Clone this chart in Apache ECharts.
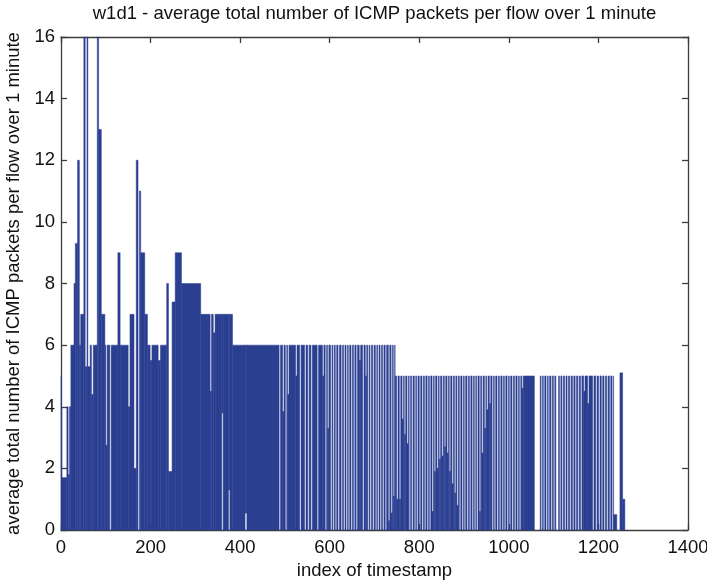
<!DOCTYPE html>
<html>
<head>
<meta charset="utf-8">
<script src="https://cdn.jsdelivr.net/npm/echarts@6/dist/echarts.min.js"></script>
<style>
  html, body { margin: 0; padding: 0; background: #ffffff; }
  #chart { width: 707px; height: 582px; }
</style>
</head>
<body>
<div id="chart"></div>
<script>
// ICMP packets per flow, averaged over 1-minute windows (w1d1 trace).
// The trace is described as an envelope of sample levels plus the short
// dropouts inside it.

const titleText = 'w1d1 - average total number of ICMP packets per flow over 1 minute';
const xTitle = 'index of timestamp';
const yTitle = 'average total number of ICMP packets per flow over 1 minute';

const xTicks = { min: 0, max: 1400, step: 200 };
const yTicks = { min: 0, max: 16, step: 2 };

// Envelope: [first index, last index, level]
const levels = [
  [0, 1, 5], [1, 22, 4], [22, 29, 6], [29, 32, 8], [32, 37, 9.3],
  [37, 41, 12], [41, 44, 6], [44, 51, 7], [51, 60, 16], [60, 81, 6],
  [81, 84, 16], [84, 90, 13], [90, 98, 7], [98, 127, 6], [127, 132, 9],
  [132, 154, 6], [154, 168, 7], [168, 175, 12], [175, 178, 11], [178, 187, 9],
  [187, 193, 7], [193, 236, 6], [236, 248, 8], [248, 255, 7.4], [255, 269, 9],
  [269, 312, 8], [312, 383, 7], [383, 746, 6], [746, 1234, 5],
  [1234, 1241, 0.5], [1248, 1254, 5.1], [1254, 1259, 1]
];

// Dropouts inside the envelope: [first index, last index, floor reached]
const dipsEarly = [
  [2, 13, 1.7], [16, 19, 1.8], [54, 58, 5.3], [60, 65, 5.3], [68, 72, 4.4],
  [100, 103, 2.75], [109, 112, 0], [150, 154, 4], [163, 168, 2], [172, 175, 0],
  [199, 203, 5.5], [217, 222, 5.5], [240, 248, 1.9], [333, 336, 4.5], [340, 344, 6.4]
];

const dipsLevelSix = [
  [487, 490, 0], [495, 498, 3.84], [501, 504, 0], [506, 509, 4.4], [524, 527, 5],
  [533, 536, 0], [544, 547, 0], [551, 554, 0], [558, 561, 0], [572, 575, 0],
  [584, 587, 5], [590, 593, 0], [595, 598, 3.3], [602, 605, 0], [607, 610, 0],
  [612.5, 615.5, 0], [618.5, 621.5, 0], [625.5, 628.5, 0], [631, 634, 0], [636.5, 639.5, 0],
  [641.5, 644.5, 0], [647.5, 650.5, 0], [653, 656, 0], [659, 662, 0], [666, 669, 5.5],
  [673.5, 676.5, 0], [679.5, 682.5, 5], [685, 688, 0], [690, 693, 0], [696, 699, 0],
  [702, 705, 0], [707, 710, 0], [712.5, 715.5, 0], [718, 721, 0], [724, 727, 0],
  [731, 734, 0.3], [737, 740, 0.55], [742, 745, 1.1]
];

const dipsLevelFive = [
  [749.5, 752.5, 1], [755.5, 758.5, 1], [761.5, 764.5, 3.6], [766.5, 769.5, 3.1], [772.5, 775.5, 2.8],
  [777.5, 780.5, 0], [783, 786, 0], [789, 792, 0], [794, 797, 0], [800, 803, 0],
  [806, 809, 0], [811.5, 814.5, 0], [817.5, 820.5, 0], [822.5, 825.5, 0], [828.5, 831.5, 0.6],
  [833.5, 836.5, 1.9], [839.5, 842.5, 2], [844.5, 847.5, 2.3], [850.5, 853.5, 2.4], [856, 859, 2.7],
  [862, 865, 2.5], [867, 870, 1.9], [873, 876, 1.5], [878.5, 881.5, 1.2], [884, 887, 0.8],
  [889.5, 892.5, 0], [895.5, 898.5, 0], [900.5, 903.5, 0], [906.5, 909.5, 0], [912, 915, 0],
  [918, 921, 0], [923, 926, 0], [928, 931, 0], [934, 937, 0.6], [939.5, 942.5, 2.5],
  [945.5, 948.5, 3.3], [950.5, 953.5, 3.9], [956.5, 959.5, 4.1], [962.5, 965.5, 0], [967.5, 970.5, 0],
  [973.5, 976.5, 0], [979, 982, 0], [985, 988, 0], [990, 993, 0], [996, 999, 0],
  [1001, 1004, 0], [1007, 1010, 0], [1012.5, 1015.5, 0], [1018.5, 1021.5, 0], [1023.5, 1026.5, 0],
  [1029, 1032, 4.6], [1057, 1070, 0], [1072, 1075, 0], [1077, 1080, 0], [1083, 1086, 0],
  [1088, 1091, 0], [1094, 1097, 0], [1099.5, 1102.5, 0], [1105, 1111, 0], [1113, 1116, 0],
  [1118.5, 1121.5, 0], [1124.5, 1127.5, 0], [1130, 1133, 0], [1136, 1139, 0], [1142, 1145, 0],
  [1148, 1151, 0], [1154, 1157, 0], [1160, 1163, 0], [1167, 1170, 4.5], [1176, 1179, 4.1],
  [1187, 1190, 0], [1194, 1197, 0], [1200.5, 1203.5, 0], [1206.5, 1209.5, 0], [1212.5, 1215.5, 0],
  [1218.5, 1221.5, 0], [1224.5, 1227.5, 0], [1230.5, 1233.5, 0]
];

// Stretches where the samples never fell below a base value: [first, last, base]
const hollows = [
  [359, 362, 3.8], [374, 377, 1.3], [411, 415, 0.55]
];

const BLUE = '#2b3f91';
const INK = '#111111';
const AXIS = '#3c3c3c';
const FONT = '"Liberation Sans", Arial, Helvetica, sans-serif';
const FONT_SIZE = 18.5;

// Split every envelope segment into filled blocks [x0, x1, low, high].
function buildBlocks() {
  const dips = dipsEarly.concat(dipsLevelSix, dipsLevelFive);
  const blocks = [];
  levels.forEach(([s, e, top]) => {
    const cuts = [];
    dips.forEach(([a, b, floor]) => {
      if (a >= s && a < e) cuts.push({ a, b: Math.min(b, e), lo: 0, hi: Math.min(floor, top) });
    });
    hollows.forEach(([a, b, base]) => {
      if (a >= s && a < e) cuts.push({ a, b: Math.min(b, e), lo: base, hi: top });
    });
    cuts.sort((p, q) => p.a - q.a);
    let cur = s;
    cuts.forEach(c => {
      if (c.a > cur) blocks.push([cur, c.a, 0, top]);
      if (c.hi > c.lo) blocks.push([Math.max(c.a, cur), c.b, c.lo, c.hi]);
      cur = Math.max(cur, c.b);
    });
    if (e > cur) blocks.push([cur, e, 0, top]);
  });
  return blocks;
}

const textStyle = { color: INK, fontSize: FONT_SIZE, fontFamily: FONT };

function axisBase(extra) {
  return Object.assign({
    type: 'value',
    axisLine: { show: true, onZero: false, lineStyle: { color: AXIS, width: 1.3 } },
    axisTick: { show: true, inside: true, length: 6, lineStyle: { color: AXIS, width: 1.3 } },
    splitLine: { show: false }
  }, extra);
}

const chart = echarts.init(document.getElementById('chart'), null, { renderer: 'canvas' });

chart.setOption({
  animation: false,
  backgroundColor: '#ffffff',
  grid: { left: 61, right: 19, top: 37, bottom: 52, containLabel: false, outerBoundsMode: 'none' },
  xAxis: [
    axisBase({
      position: 'bottom',
      min: xTicks.min, max: xTicks.max, interval: xTicks.step,
      axisLabel: Object.assign({ margin: 8, formatter: v => String(v) }, textStyle),
      name: xTitle, nameLocation: 'middle', nameGap: 28,
      nameTextStyle: textStyle
    }),
    axisBase({
      position: 'top',
      min: xTicks.min, max: xTicks.max, interval: xTicks.step,
      axisLabel: { show: false },
      name: titleText, nameLocation: 'middle', nameGap: 14,
      nameTextStyle: textStyle
    })
  ],
  yAxis: [
    axisBase({
      position: 'left',
      min: yTicks.min, max: yTicks.max, interval: yTicks.step,
      axisLabel: Object.assign({ margin: 6, formatter: v => String(v) }, textStyle),
      name: yTitle, nameLocation: 'middle', nameGap: 33,
      nameTextStyle: textStyle
    }),
    axisBase({
      position: 'right',
      min: yTicks.min, max: yTicks.max, interval: yTicks.step,
      axisLabel: { show: false }
    })
  ],
  series: [{
    type: 'custom',
    coordinateSystem: 'cartesian2d',
    xAxisIndex: 0,
    yAxisIndex: 0,
    silent: true,
    encode: { x: [0, 1], y: [2, 3] },
    data: buildBlocks(),
    renderItem: function (params, api) {
      const topLeft = api.coord([api.value(0), api.value(3)]);
      const bottomRight = api.coord([api.value(1), api.value(2)]);
      return {
        type: 'rect',
        shape: {
          x: topLeft[0],
          y: topLeft[1],
          width: bottomRight[0] - topLeft[0],
          height: bottomRight[1] - topLeft[1]
        },
        style: { fill: BLUE, stroke: BLUE, lineWidth: 0.5 }
      };
    }
  }]
});
</script>
</body>
</html>
